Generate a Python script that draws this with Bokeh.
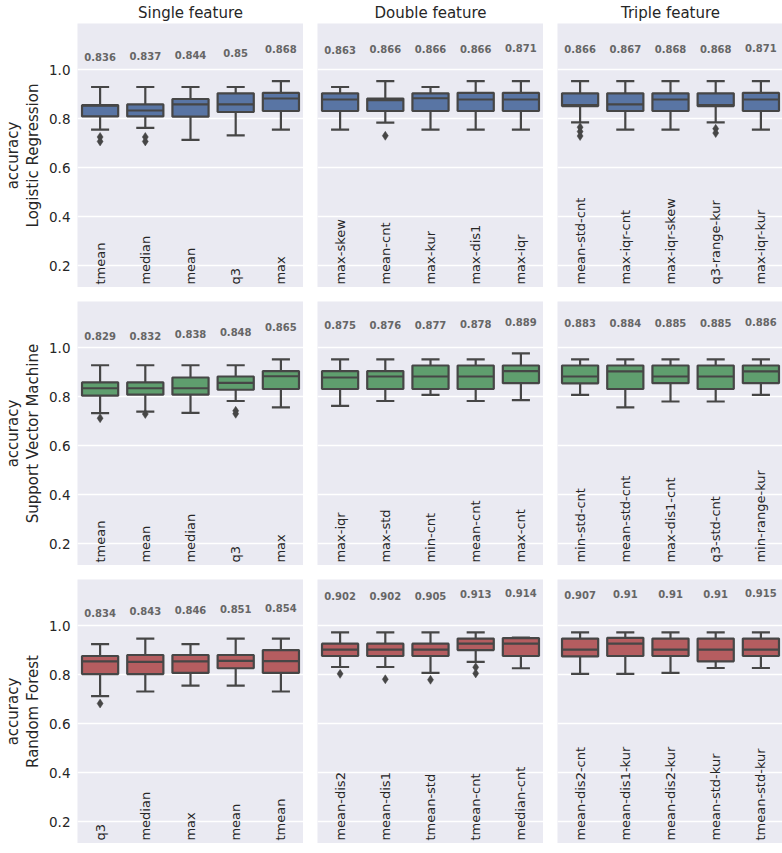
import math
from bokeh.plotting import figure
from bokeh.layouts import gridplot
from bokeh.models import (FactorRange, Range1d, FixedTicker, LinearAxis, ColumnDataSource,
                          PrintfTickFormatter)
from bokeh.transform import dodge
from bokeh.core.properties import value
from bokeh.embed import file_html
from bokeh.resources import INLINE

# ---------------- data ----------------
COLUMN_TITLES = ["Single feature", "Double feature", "Triple feature"]
MODELS = ["Logistic Regression", "Support Vector Machine", "Random Forest"]
Y_TICKS = [0.2, 0.4, 0.6, 0.8, 1.0]

# Logistic Regression
LR_SINGLE_NAMES = ["tmean", "median", "mean", "q3", "max"]
LR_SINGLE_MEAN = [0.836, 0.837, 0.844, 0.85, 0.868]
LR_SINGLE_WHI = [0.930, 0.930, 0.930, 0.930, 0.954]
LR_SINGLE_Q3 = [0.856, 0.859, 0.881, 0.904, 0.906]
LR_SINGLE_MED = [0.854, 0.834, 0.859, 0.859, 0.883]
LR_SINGLE_Q1 = [0.810, 0.810, 0.809, 0.828, 0.832]
LR_SINGLE_WLO = [0.756, 0.763, 0.714, 0.733, 0.756]
LR_SINGLE_OUT = [("tmean", 0.726), ("tmean", 0.708), ("median", 0.726), ("median", 0.708)]

LR_DOUBLE_NAMES = ["max-skew", "mean-cnt", "max-kur", "max-dis1", "max-iqr"]
LR_DOUBLE_MEAN = [0.863, 0.866, 0.866, 0.866, 0.871]
LR_DOUBLE_WHI = [0.930, 0.954, 0.930, 0.954, 0.954]
LR_DOUBLE_Q3 = [0.904, 0.883, 0.904, 0.906, 0.906]
LR_DOUBLE_MED = [0.879, 0.876, 0.884, 0.879, 0.879]
LR_DOUBLE_Q1 = [0.832, 0.832, 0.832, 0.832, 0.832]
LR_DOUBLE_WLO = [0.756, 0.785, 0.756, 0.756, 0.756]
LR_DOUBLE_OUT = [("mean-cnt", 0.731)]

LR_TRIPLE_NAMES = ["mean-std-cnt", "max-iqr-cnt", "max-iqr-skew", "q3-range-kur", "max-iqr-kur"]
LR_TRIPLE_MEAN = [0.866, 0.867, 0.868, 0.868, 0.871]
LR_TRIPLE_WHI = [0.954, 0.954, 0.954, 0.954, 0.954]
LR_TRIPLE_Q3 = [0.904, 0.904, 0.904, 0.904, 0.906]
LR_TRIPLE_MED = [0.856, 0.859, 0.879, 0.856, 0.879]
LR_TRIPLE_Q1 = [0.852, 0.832, 0.832, 0.852, 0.832]
LR_TRIPLE_WLO = [0.786, 0.756, 0.756, 0.786, 0.756]
LR_TRIPLE_OUT = [("mean-std-cnt", 0.766), ("mean-std-cnt", 0.748), ("mean-std-cnt", 0.730),
                 ("q3-range-kur", 0.760), ("q3-range-kur", 0.742)]

# Support Vector Machine
SVM_SINGLE_NAMES = ["tmean", "mean", "median", "q3", "max"]
SVM_SINGLE_MEAN = [0.829, 0.832, 0.838, 0.848, 0.865]
SVM_SINGLE_WHI = [0.929, 0.929, 0.929, 0.929, 0.953]
SVM_SINGLE_Q3 = [0.859, 0.859, 0.879, 0.883, 0.905]
SVM_SINGLE_MED = [0.835, 0.835, 0.835, 0.857, 0.884]
SVM_SINGLE_Q1 = [0.805, 0.809, 0.809, 0.829, 0.832]
SVM_SINGLE_WLO = [0.734, 0.740, 0.735, 0.783, 0.757]
SVM_SINGLE_OUT = [("tmean", 0.713), ("mean", 0.730), ("q3", 0.743), ("q3", 0.731)]

SVM_DOUBLE_NAMES = ["max-iqr", "max-std", "min-cnt", "mean-cnt", "max-cnt"]
SVM_DOUBLE_MEAN = [0.875, 0.876, 0.877, 0.878, 0.889]
SVM_DOUBLE_WHI = [0.953, 0.953, 0.953, 0.953, 0.977]
SVM_DOUBLE_Q3 = [0.905, 0.905, 0.928, 0.928, 0.928]
SVM_DOUBLE_MED = [0.879, 0.883, 0.883, 0.883, 0.905]
SVM_DOUBLE_Q1 = [0.832, 0.832, 0.832, 0.832, 0.856]
SVM_DOUBLE_WLO = [0.763, 0.783, 0.808, 0.783, 0.787]
SVM_DOUBLE_OUT = []

SVM_TRIPLE_NAMES = ["min-std-cnt", "mean-std-cnt", "max-dis1-cnt", "q3-std-cnt", "min-range-kur"]
SVM_TRIPLE_MEAN = [0.883, 0.884, 0.885, 0.885, 0.886]
SVM_TRIPLE_WHI = [0.953, 0.953, 0.953, 0.953, 0.953]
SVM_TRIPLE_Q3 = [0.928, 0.928, 0.928, 0.928, 0.928]
SVM_TRIPLE_MED = [0.883, 0.904, 0.883, 0.883, 0.904]
SVM_TRIPLE_Q1 = [0.855, 0.832, 0.856, 0.832, 0.856]
SVM_TRIPLE_WLO = [0.808, 0.757, 0.781, 0.781, 0.808]
SVM_TRIPLE_OUT = []

# Random Forest
RF_SINGLE_NAMES = ["q3", "median", "max", "mean", "tmean"]
RF_SINGLE_MEAN = [0.834, 0.843, 0.846, 0.851, 0.854]
RF_SINGLE_WHI = [0.925, 0.948, 0.925, 0.948, 0.948]
RF_SINGLE_Q3 = [0.877, 0.881, 0.881, 0.881, 0.901]
RF_SINGLE_MED = [0.855, 0.853, 0.855, 0.857, 0.856]
RF_SINGLE_Q1 = [0.803, 0.803, 0.808, 0.827, 0.808]
RF_SINGLE_WLO = [0.713, 0.732, 0.756, 0.756, 0.732]
RF_SINGLE_OUT = [("q3", 0.683)]

RF_DOUBLE_NAMES = ["mean-dis2", "mean-dis1", "tmean-std", "tmean-cnt", "median-cnt"]
RF_DOUBLE_MEAN = [0.902, 0.902, 0.905, 0.913, 0.914]
RF_DOUBLE_WHI = [0.973, 0.973, 0.973, 0.973, 0.952]
RF_DOUBLE_Q3 = [0.927, 0.927, 0.927, 0.948, 0.950]
RF_DOUBLE_MED = [0.903, 0.903, 0.903, 0.927, 0.927]
RF_DOUBLE_Q1 = [0.877, 0.877, 0.877, 0.901, 0.877]
RF_DOUBLE_WLO = [0.832, 0.832, 0.808, 0.853, 0.827]
RF_DOUBLE_OUT = [("mean-dis2", 0.804), ("mean-dis1", 0.782), ("tmean-std", 0.780),
                 ("tmean-cnt", 0.831), ("tmean-cnt", 0.806)]

RF_TRIPLE_NAMES = ["mean-dis2-cnt", "mean-dis1-kur", "mean-dis2-kur", "mean-std-kur", "tmean-std-kur"]
RF_TRIPLE_MEAN = [0.907, 0.91, 0.91, 0.91, 0.915]
RF_TRIPLE_WHI = [0.973, 0.973, 0.973, 0.973, 0.973]
RF_TRIPLE_Q3 = [0.948, 0.951, 0.948, 0.948, 0.948]
RF_TRIPLE_MED = [0.903, 0.927, 0.903, 0.903, 0.903]
RF_TRIPLE_Q1 = [0.875, 0.877, 0.877, 0.855, 0.877]
RF_TRIPLE_WLO = [0.804, 0.804, 0.808, 0.828, 0.828]
RF_TRIPLE_OUT = []

# ---------------- styling ----------------
Y_LO, Y_HI = 0.112, 1.189
BG = "#EAEAF2"
EDGE = "#464646"
TXT = "#262626"
ROW_COLORS = ["#5975A4", "#5F9E6E", "#B55D60"]
FONT = "DejaVu Sans"
FRAME_W, FRAME_H = 226, 264
LABEL_OFFSET = 0.218

PANELS = [
    [(LR_SINGLE_NAMES, LR_SINGLE_MEAN, LR_SINGLE_WLO, LR_SINGLE_Q1, LR_SINGLE_MED, LR_SINGLE_Q3, LR_SINGLE_WHI, LR_SINGLE_OUT),
     (LR_DOUBLE_NAMES, LR_DOUBLE_MEAN, LR_DOUBLE_WLO, LR_DOUBLE_Q1, LR_DOUBLE_MED, LR_DOUBLE_Q3, LR_DOUBLE_WHI, LR_DOUBLE_OUT),
     (LR_TRIPLE_NAMES, LR_TRIPLE_MEAN, LR_TRIPLE_WLO, LR_TRIPLE_Q1, LR_TRIPLE_MED, LR_TRIPLE_Q3, LR_TRIPLE_WHI, LR_TRIPLE_OUT)],
    [(SVM_SINGLE_NAMES, SVM_SINGLE_MEAN, SVM_SINGLE_WLO, SVM_SINGLE_Q1, SVM_SINGLE_MED, SVM_SINGLE_Q3, SVM_SINGLE_WHI, SVM_SINGLE_OUT),
     (SVM_DOUBLE_NAMES, SVM_DOUBLE_MEAN, SVM_DOUBLE_WLO, SVM_DOUBLE_Q1, SVM_DOUBLE_MED, SVM_DOUBLE_Q3, SVM_DOUBLE_WHI, SVM_DOUBLE_OUT),
     (SVM_TRIPLE_NAMES, SVM_TRIPLE_MEAN, SVM_TRIPLE_WLO, SVM_TRIPLE_Q1, SVM_TRIPLE_MED, SVM_TRIPLE_Q3, SVM_TRIPLE_WHI, SVM_TRIPLE_OUT)],
    [(RF_SINGLE_NAMES, RF_SINGLE_MEAN, RF_SINGLE_WLO, RF_SINGLE_Q1, RF_SINGLE_MED, RF_SINGLE_Q3, RF_SINGLE_WHI, RF_SINGLE_OUT),
     (RF_DOUBLE_NAMES, RF_DOUBLE_MEAN, RF_DOUBLE_WLO, RF_DOUBLE_Q1, RF_DOUBLE_MED, RF_DOUBLE_Q3, RF_DOUBLE_WHI, RF_DOUBLE_OUT),
     (RF_TRIPLE_NAMES, RF_TRIPLE_MEAN, RF_TRIPLE_WLO, RF_TRIPLE_Q1, RF_TRIPLE_MED, RF_TRIPLE_Q3, RF_TRIPLE_WHI, RF_TRIPLE_OUT)],
]


def make_panel(r, c, data):
    names, means, wlo, q1, med, q3, whi, outs = data
    color = ROW_COLORS[r]
    p = figure(
        x_range=FactorRange(*names), y_range=Range1d(Y_LO, Y_HI),
        frame_width=FRAME_W, frame_height=FRAME_H,
        title=COLUMN_TITLES[c] if r == 0 else None,
        output_backend="svg", toolbar_location=None,
        min_border_left=0 if c == 0 else 14, min_border_right=0,
        min_border_top=0 if r == 0 else 14, min_border_bottom=0,
        background_fill_color=BG, border_fill_color="white",
        outline_line_color=None,
    )
    if r == 0:
        p.title.align = "center"
        p.title.text_font = FONT
        p.title.text_font_size = "15px"
        p.title.text_font_style = "normal"
        p.title.text_color = TXT
        p.title.standoff = 3

    p.xaxis.visible = False
    p.xgrid.visible = False
    p.ygrid.ticker = FixedTicker(ticks=Y_TICKS)
    p.ygrid.grid_line_color = "white"
    p.ygrid.grid_line_width = 1.6

    if c == 0:
        ax = p.yaxis[0]
        ax.ticker = FixedTicker(ticks=Y_TICKS)
        ax.formatter = PrintfTickFormatter(format="%.1f")
        ax.axis_line_color = None
        ax.major_tick_line_color = None
        ax.minor_tick_line_color = None
        ax.major_tick_out = 0
        ax.minor_tick_out = 0
        ax.major_label_text_font = FONT
        ax.major_label_text_font_size = "13.5px"
        ax.major_label_text_color = TXT
        ax.major_label_standoff = 7
        ax.axis_label = MODELS[r]
        ax.axis_label_text_font = FONT
        ax.axis_label_text_font_size = "15px"
        ax.axis_label_text_font_style = "normal"
        ax.axis_label_text_color = TXT
        ax.axis_label_standoff = 4
        ax2 = LinearAxis(
            ticker=FixedTicker(ticks=[]), axis_label="accuracy",
            axis_line_color=None, major_tick_line_color=None, minor_tick_line_color=None,
            major_tick_out=0, minor_tick_out=0, axis_label_standoff=0,
            axis_label_text_font=FONT, axis_label_text_font_size="15px",
            axis_label_text_font_style="normal", axis_label_text_color=TXT,
        )
        p.add_layout(ax2, "left")
    else:
        p.yaxis.visible = False

    src = ColumnDataSource(dict(
        cat=names, lo=wlo, q1=q1, med=med, q3=q3, hi=whi,
        ly=[m + LABEL_OFFSET for m in means], mlab=[str(m) for m in means],
        base=[Y_LO + 0.012] * len(names),
    ))
    lw = 2.2
    p.segment(x0="cat", y0="q3", x1="cat", y1="hi", source=src, line_color=EDGE, line_width=lw)
    p.segment(x0="cat", y0="q1", x1="cat", y1="lo", source=src, line_color=EDGE, line_width=lw)
    for key in ("hi", "lo"):
        p.segment(x0=dodge("cat", -0.2, range=p.x_range), y0=key,
                  x1=dodge("cat", 0.2, range=p.x_range), y1=key,
                  source=src, line_color=EDGE, line_width=lw)
    p.vbar(x="cat", top="q3", bottom="q1", width=0.8, source=src,
           fill_color=color, line_color=EDGE, line_width=lw)
    p.segment(x0=dodge("cat", -0.4, range=p.x_range), y0="med",
              x1=dodge("cat", 0.4, range=p.x_range), y1="med",
              source=src, line_color=EDGE, line_width=lw)
    if outs:
        osrc = ColumnDataSource(dict(cat=[o[0] for o in outs], v=[o[1] for o in outs]))
        p.scatter(x="cat", y="v", source=osrc, marker="diamond", size=9,
                  fill_color=EDGE, line_color=EDGE, line_width=0.5)
    p.text(x="cat", y="ly", text="mlab", source=src,
           text_font=value(FONT), text_font_size="10px", text_font_style="bold",
           text_color="#666666", text_align="center", text_baseline="middle")
    p.text(x="cat", y="base", text="cat", source=src, angle=math.pi / 2,
           text_font=value(FONT), text_font_size="13px", text_color=TXT,
           text_align="left", text_baseline="middle")
    return p


rows = [[make_panel(r, c, PANELS[r][c]) for c in range(3)] for r in range(3)]
grid = gridplot(rows, toolbar_location=None)

open("out.html", "w").write(file_html(grid, INLINE))
